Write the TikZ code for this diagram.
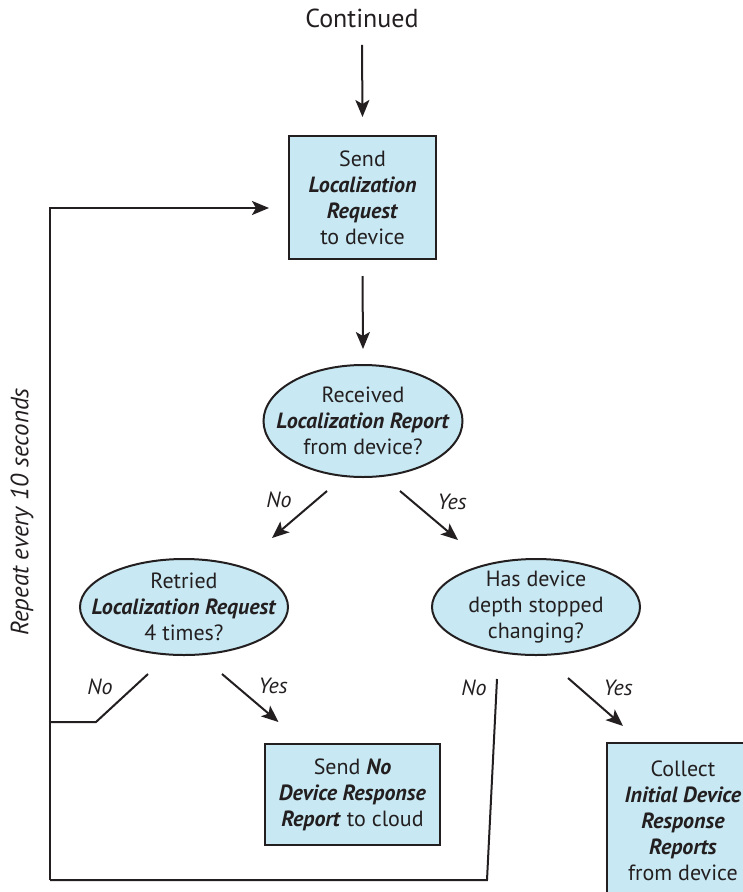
\documentclass[tikz,border=0pt]{standalone}
\usepackage{fontspec}
\setmainfont{PT Sans}
\usetikzlibrary{arrows.meta,shapes.geometric,calc}
\definecolor{boxfill}{RGB}{200,233,243}
\definecolor{ink}{RGB}{35,31,32}
\begin{document}
\begin{tikzpicture}[x=1pt,y=-1pt,
  every node/.style={font=\fontsize{22}{26}\selectfont, text=ink},
  stepbox/.style={draw=ink, line width=2pt, fill=boxfill, align=center, inner sep=0pt},
  decision/.style={ellipse, draw=ink, line width=2pt, fill=boxfill, align=center,
    inner xsep=-32pt, inner ysep=-22pt},
  flow/.style={draw=ink, line width=2pt, -{Stealth[length=17pt,width=14pt,inset=4pt]}},
  plain/.style={draw=ink, line width=2pt},
  lab/.style={font=\fontsize{22}{26}\selectfont\itshape}]
\useasboundingbox (0,0) rectangle (743,892);
\clip (0,0) rectangle (743,892);

% entry
\node[font=\fontsize{26}{30}\selectfont] (cont) at (362,18) {Continued};

% request box
\node[stepbox, minimum width=147pt, minimum height=123pt] (req) at (362.5,197.5)
  {Send\\\textbf{\textit{Localization}}\\\textbf{\textit{Request}}\\to device};

% first decision
\node[decision, minimum width=199pt, minimum height=112pt] (recv) at (363,421)
  {Received\\\textbf{\textit{Localization Report}}\\from device?};

% second level decisions
\node[decision, minimum width=208pt, minimum height=96pt] (retry) at (184,607)
  {Retried\\\textbf{\textit{Localization Request}}\\4 times?};
\node[decision, minimum width=208pt, minimum height=96pt] (depth) at (536,607)
  {Has device\\depth stopped\\changing?};

% outcomes
\node[stepbox, minimum width=175pt, minimum height=101pt] (nores) at (352.5,794.5)
  {Send \textbf{\textit{No}}\\\textbf{\textit{Device Response}}\\\textbf{\textit{Report}} to cloud};
\node[stepbox, minimum width=152pt, minimum height=156pt] (collect) at (683,821)
  {Collect\\\textbf{\textit{Initial Device}}\\\textbf{\textit{Response}}\\\textbf{\textit{Reports}}\\from device};

% loop label
\node[lab, font=\fontsize{25}{30}\selectfont\itshape, rotate=90] (repeat) at (22,512) {Repeat every 10 seconds};

% branch labels
\node[lab] (no1) at (279,500) {No};
\node[lab] (yes1) at (452,502) {Yes};
\node[lab] (no2) at (100,687) {No};
\node[lab] (yes2) at (273,686) {Yes};
\node[lab] (no3) at (474,688) {No};
\node[lab] (yes3) at (618,688) {Yes};

% loop corners
\coordinate (ltop) at (50,208);
\coordinate (lbot) at (50,880);
\coordinate (lmid) at (50,722);
\coordinate (knee) at (96,722);
\coordinate (rbot) at (487,880);

% main spine
\draw[flow] ($(cont.south)+(0,14)$) -- ($(req.north)+(0,-18)$);
\draw[flow] ($(req.south)+(0,16)$) -- ($(recv.north)+(0,-15)$);

% first decision branches
\draw[flow] ($(recv.south)+(-36,13)$) -- ($(retry.north)+(88,-20)$);
\draw[flow] ($(recv.south)+(37,13)$) -- ($(depth.north)+(-78,-18)$);

% retry branches
\draw[plain] ($(retry.south)+(-36,18)$) -- (knee) -- (lmid);
\draw[flow] ($(retry.south)+(38,18)$) -- ($(nores.north)+(-74,-21)$);

% depth branches
\draw[plain] ($(depth.south)+(-39,23)$) -- (rbot) -- (lbot);
\draw[flow] ($(depth.south)+(32,22)$) -- ($(collect.north)+(-60,-16)$);

% repeat loop back to the request
\draw[flow] (lbot) -- (ltop) -- ($(req.west)+(-19,10.5)$);
\end{tikzpicture}
\end{document}
